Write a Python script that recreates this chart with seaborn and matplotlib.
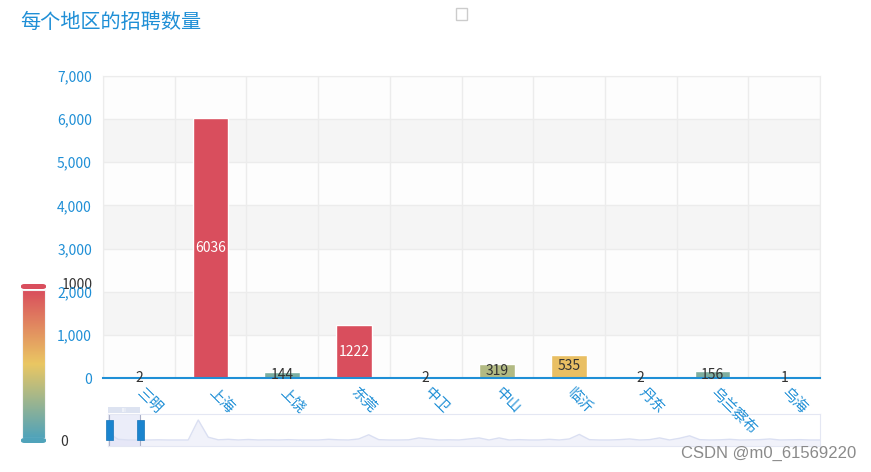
import numpy as np
import pandas as pd
import matplotlib
matplotlib.use('Agg')
import matplotlib.pyplot as plt
import seaborn as sns
from matplotlib.colors import LinearSegmentedColormap, to_hex
from matplotlib.patches import Rectangle, FancyBboxPatch

# 데이터
cities = ['三明', '上海', '上饶', '东莞', '中卫', '中山', '临沂', '丹东', '乌兰察布', '乌海']
counts = [2, 6036, 144, 1222, 2, 319, 535, 2, 156, 1]
y_ticks = [0, 1000, 2000, 3000, 4000, 5000, 6000, 7000]
# 하단 슬라이더의 전체 데이터 윤곽 (그림에서 대략 읽은 값)
spark_values = [2400, 500, 300, 300, 300, 350, 300, 300, 300, 6036, 1100, 350, 500, 300,
                450, 300, 350, 300, 400, 300, 300, 300, 500, 350, 300, 600, 1800, 400,
                300, 300, 350, 900, 600, 300, 350, 300, 600, 900, 300, 900, 300, 400,
                300, 300, 500, 300, 600, 1900, 400, 300, 300, 400, 600, 300, 400, 900,
                300, 800, 1500, 400, 300, 350, 500, 300, 350, 400, 600, 300, 350, 400,
                300, 300]
vmap_min, vmap_max = 0, 1000

W, H = 871, 472
sns.set_style('white')
plt.rcParams['font.family'] = ['Noto Sans CJK SC', 'DejaVu Sans']

BLUE = '#1f8fd6'
cmap = LinearSegmentedColormap.from_list('vm', ['#50a3ba', '#eac763', '#d94e5d'])
bar_colors = [to_hex(cmap(float(min(max((v - vmap_min) / (vmap_max - vmap_min), 0.0), 1.0))))
              for v in counts]


def fx(x):
    return x / W


def fy(y):
    return 1 - y / H


fig = plt.figure(figsize=(W / 100, H / 100), dpi=100)
fig.patch.set_facecolor('white')

# 메인 차트
ax = fig.add_axes([fx(103), fy(378), fx(820) - fx(103), fy(76) - fy(378)])
ax.set_zorder(5)
for k in range(7):
    ax.axhspan(k * 1000, (k + 1) * 1000, color='#f5f5f5' if k % 2 == 1 else '#fdfdfd', zorder=0, lw=0)

df = pd.DataFrame({'city': cities, 'count': counts})
sns.barplot(data=df, x='city', y='count', hue='city', palette=bar_colors, legend=False,
            width=0.5, saturation=1, ax=ax, zorder=3)
ax.set_xlabel('')
ax.set_ylabel('')
ax.set_ylim(0, 7000)
ax.set_xlim(-0.5, len(cities) - 0.5)

for yv in y_ticks[1:]:
    ax.axhline(yv, color='#ececec', lw=1, zorder=1)
for k in range(len(cities) + 1):
    ax.axvline(k - 0.5, color='#ececec', lw=1, zorder=1)

ax.set_yticks(y_ticks)
ax.set_yticklabels([f'{v:,}' for v in y_ticks], color=BLUE, fontsize=10)
ax.tick_params(axis='y', length=0, pad=8)

ax.set_xticks([k - 0.5 for k in range(len(cities) + 1)])
ax.set_xticklabels([''] * (len(cities) + 1))
ax.tick_params(axis='x', which='major', length=5, color=BLUE, width=1.2, direction='out')
ax.set_xticks(range(len(cities)), minor=True)
ax.set_xticklabels(cities, minor=True, rotation=-45, ha='left', va='center',
                   rotation_mode='anchor', color=BLUE, fontsize=10.5)
ax.tick_params(axis='x', which='minor', length=0, pad=9)

for name in ['top', 'left', 'right']:
    ax.spines[name].set_color('#ececec')
ax.spines['bottom'].set_color(BLUE)
ax.spines['bottom'].set_linewidth(1.5)
ax.spines['bottom'].set_zorder(5)

for i, v in enumerate(counts):
    ax.text(i, v / 2, str(v), ha='center', va='center', fontsize=10,
            color='white' if v >= 1000 else '#333333', zorder=6)

# 제목과 범례 아이콘
fig.text(fx(20), fy(22), '每个地区的招聘数量', color=BLUE, fontsize=14.5, ha='left', va='center')
fig.patches.append(Rectangle((fx(456), fy(20)), fx(11), fy(8) - fy(20), transform=fig.transFigure,
                             facecolor='white', edgecolor='#cccccc', lw=1))

# 시각 맵 (연속형)
cax = fig.add_axes([fx(22), fy(438), fx(23), fy(290) - fy(438)])
grad = np.linspace(1, 0, 256).reshape(-1, 1)
cax.imshow(grad, aspect='auto', cmap=cmap, extent=[0, 1, 0, 1])
cax.set_xticks([])
cax.set_yticks([])
for s in cax.spines.values():
    s.set_color('#f3f3f3')
for ytop, col in [(284, '#d94e5d'), (438, '#50a3ba')]:
    fig.patches.append(FancyBboxPatch((fx(21), fy(ytop + 5)), fx(25), fy(ytop) - fy(ytop + 5),
                                      boxstyle='round,pad=0,rounding_size=0.004',
                                      transform=fig.transFigure, facecolor=col, edgecolor='none'))
fig.text(fx(62), fy(285), '1000', color='#333333', fontsize=10, ha='left', va='center')
fig.text(fx(60), fy(442), '0', color='#333333', fontsize=10, ha='left', va='center')

# 데이터 줌 슬라이더
sax = fig.add_axes([fx(108), fy(446), fx(820) - fx(108), fy(414) - fy(446)])
sax.set_zorder(1)
xs = np.arange(len(spark_values))
sax.fill_between(xs, -1420, spark_values, color='#f1f2fa', lw=0)
sax.plot(xs, spark_values, color='#dadff2', lw=1)
sax.set_xlim(0, len(spark_values) - 1)
sax.set_ylim(-1420, 7756)
sax.set_xticks([])
sax.set_yticks([])
for s in sax.spines.values():
    s.set_color('#e4e7f3')
win = (140 - 108) / (820 - 108) * (len(spark_values) - 1)
sax.axvspan(0, win, color='#dfe1f5', alpha=0.6, lw=0)
sax.axvline(0.1, color='#aab0c8', lw=0.8)
sax.axvline(win, color='#aab0c8', lw=0.8)

fig.patches.append(Rectangle((fx(108), fy(413)), fx(32), fy(407) - fy(413), transform=fig.transFigure,
                             facecolor='#dde3f1', edgecolor='none'))
fig.text(fx(124), fy(410), 'III', color='white', fontsize=4, ha='center', va='center')
for hx in [106, 137]:
    fig.patches.append(Rectangle((fx(hx), fy(440)), fx(7), fy(420) - fy(440), transform=fig.transFigure,
                                 facecolor='#1a84ce', edgecolor='#1574b8', lw=0.5))

# 워터마크
fig.text(fx(856), fy(453), 'CSDN @m0_61569220', color='#8a8a8a', fontsize=12, ha='right', va='center',
         family=['Liberation Sans', 'DejaVu Sans'])

fig.savefig('out.png', dpi=100)
